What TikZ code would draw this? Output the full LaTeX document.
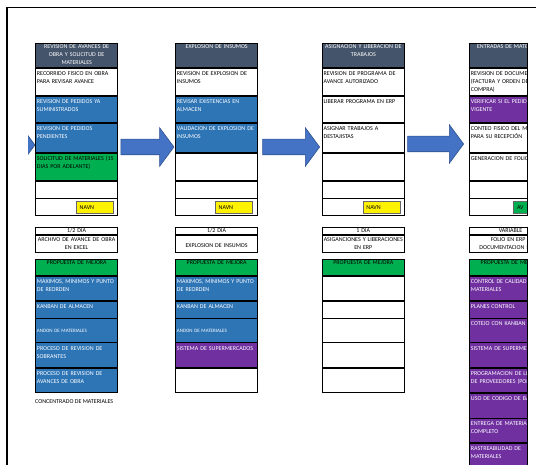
\documentclass[tikz,border=0pt]{standalone}
\usepackage{fontspec}
\setmainfont{Carlito}
\usetikzlibrary{positioning,shapes.arrows}

\definecolor{hdrslate}{HTML}{44546A}
\definecolor{cellblue}{HTML}{2E75B6}
\definecolor{cellgreen}{HTML}{00B050}
\definecolor{cellpurple}{HTML}{7030A0}
\definecolor{arrowblue}{HTML}{4472C4}
\definecolor{arrowedge}{HTML}{2F528F}

\begin{document}
\begin{tikzpicture}[x=1pt, y=-1pt,
  font=\fontsize{6}{8}\selectfont,
  hdr/.style={draw, line width=0.8pt, fill=hdrslate, text=white, anchor=north west, align=center, text width=79.6pt, inner xsep=1.2pt, inner ysep=1pt, text height=4.3pt, text depth=#1pt-6.3pt},
  row/.style={draw, line width=0.8pt, fill=white, anchor=north, align=left, text width=79.6pt, inner xsep=1.2pt, inner ysep=1.5pt, text height=5.7pt, text depth=#1pt-8.7pt},
  info/.style={draw, line width=0.6pt, align=center, text width=79.6pt, inner xsep=1.2pt, inner ysep=0pt, minimum height=#1},
  blu/.style={fill=cellblue, text=white},
  pur/.style={fill=cellpurple, text=white},
  grn/.style={fill=cellgreen, text=black},
  small/.style={font=\fontsize{5}{6}\selectfont, text height=11.8pt, text depth=8.5pt},
  tag/.style={draw=black!60, line width=0.4pt, fill=yellow, anchor=north west, text width=30pt, align=left, inner xsep=3.5pt, inner ysep=0pt, minimum height=11.3pt},
  bigarr/.style={single arrow, draw=arrowedge, fill=arrowblue, line width=0.6pt, inner sep=0pt, text height=15pt, text depth=0pt, minimum width=38pt, single arrow head extend=11.5pt, single arrow tip angle=107, single arrow head indent=0pt, anchor=tip}]
\useasboundingbox (0,0) rectangle (536,465);
% ---- sheet frame
\draw[line width=1.4pt] (6.8,465) -- (6.8,7.3) -- (536,7.3);
% ---- column 1: avances de obra
\node[hdr=24.3] (c1h) at (35.3,42.7) {REVISION DE AVANCES DE\\OBRA Y SOLICITUD DE\\MATERIALES};
\node[row=27, below=0pt of c1h] (c1r1) {RECORRIDO FISICO EN OBRA\\PARA REVISAR AVANCE};
\node[row=26.3, blu, below=0pt of c1r1] (c1r2) {REVISION DE PEDIDOS YA\\SUMINISTRADOS};
\node[row=29.2, blu, below=0pt of c1r2] (c1r3) {REVISION DE PEDIDOS\\PENDIENTES};
\node[row=27.8, grn, below=0pt of c1r3] (c1r4) {SOLICITUD DE MATERIALES (15\\DIAS POR ADELANTE)};
\node[row=16.4, below=0pt of c1r4] (c1r5) {};
\node[row=16.3, below=0pt of c1r5] (c1r6) {};
\node[tag] (c1tag) at ([xshift=40.7pt, yshift=-3pt]c1r6.north west) {NAVN};
\node[info=7.3pt, anchor=north west] (c1i1) at (35.3,226.7) {1/2 DIA};
\node[info=17.7pt, below=0pt of c1i1] (c1i2) {ARCHIVO DE AVANCE DE OBRA\\EN EXCEL};
\node[hdr=15.7, grn] (c1ph) at (35.3,259.3) {PROPUESTA DE MEJORA};
\node[row=24.3, blu, below=0pt of c1ph] (c1p1) {MAXIMOS, MINIMOS Y PUNTO\\DE REORDEN};
\node[row=16.7, blu, below=0pt of c1p1] (c1p2) {KANBAN DE ALMACEN};
\node[row=23.3, blu, small, below=0pt of c1p2] (c1p3) {ANDON DE MATERIALES};
\node[row=24.7, blu, below=0pt of c1p3] (c1p4) {PROCESO DE REVISION DE\\SOBRANTES};
\node[row=24.3, blu, below=0pt of c1p4] (c1p5) {PROCESO DE REVISION DE\\AVANCES DE OBRA};
\node[anchor=west, inner sep=0pt] (conc) at (35,401.5) {CONCENTRADO DE MATERIALES};
% ---- column 2: explosion de insumos
\node[hdr=24.3] (c2h) at (175.3,42.7) {EXPLOSION DE INSUMOS};
\node[row=27, below=0pt of c2h] (c2r1) {REVISION DE EXPLOSION DE\\INSUMOS};
\node[row=26.3, blu, below=0pt of c2r1] (c2r2) {REVISAR EXISTENCIAS EN\\ALMACEN};
\node[row=29.2, blu, below=0pt of c2r2] (c2r3) {VALIDACION DE EXPLOSION DE\\INSUMOS};
\node[row=27.8, below=0pt of c2r3] (c2r4) {};
\node[row=16.4, below=0pt of c2r4] (c2r5) {};
\node[row=16.3, below=0pt of c2r5] (c2r6) {};
\node[tag] (c2tag) at ([xshift=39.7pt, yshift=-3pt]c2r6.north west) {NAVN};
\node[info=7.3pt, anchor=north west] (c2i1) at (175.3,226.7) {1/2 DIA};
\node[info=17.7pt, text height=8pt, below=0pt of c2i1] (c2i2) {EXPLOSION DE INSUMOS};
\node[hdr=15.7, grn] (c2ph) at (175.3,259.3) {PROPUESTA DE MEJORA};
\node[row=24.3, blu, below=0pt of c2ph] (c2p1) {MAXIMOS, MINIMOS Y PUNTO\\DE REORDEN};
\node[row=16.7, blu, below=0pt of c2p1] (c2p2) {KANBAN DE ALMACEN};
\node[row=23.3, blu, small, below=0pt of c2p2] (c2p3) {ANDON DE MATERIALES};
\node[row=24.7, pur, below=0pt of c2p3] (c2p4) {SISTEMA DE SUPERMERCADOS};
\node[row=24.3, below=0pt of c2p4] (c2p5) {};
% ---- column 3: asignacion de trabajos
\node[hdr=24.3] (c3h) at (322,42.7) {ASIGNACION Y LIBERACION DE\\TRABAJOS};
\node[row=27, below=0pt of c3h] (c3r1) {REVISION DE PROGRAMA DE\\AVANCE AUTORIZADO};
\node[row=26.3, below=0pt of c3r1] (c3r2) {LIBERAR PROGRAMA EN ERP};
\node[row=29.2, below=0pt of c3r2] (c3r3) {ASIGNAR TRABAJOS A\\DESTAJISTAS};
\node[row=27.8, below=0pt of c3r3] (c3r4) {};
\node[row=16.4, below=0pt of c3r4] (c3r5) {};
\node[row=16.3, below=0pt of c3r5] (c3r6) {};
\node[tag] (c3tag) at ([xshift=40.7pt, yshift=-3pt]c3r6.north west) {NAVN};
\node[info=7.3pt, anchor=north west] (c3i1) at (322,226.7) {1 DIA};
\node[info=17.7pt, below=0pt of c3i1] (c3i2) {ASIGANCIONES Y LIBERACIONES\\EN ERP};
\node[hdr=15.7, grn] (c3ph) at (322,259.3) {PROPUESTA DE MEJORA};
\node[row=24.3, below=0pt of c3ph] (c3p1) {};
\node[row=16.7, below=0pt of c3p1] (c3p2) {};
\node[row=23.3, below=0pt of c3p2] (c3p3) {};
\node[row=24.7, below=0pt of c3p3] (c3p4) {};
\node[row=24.3, below=0pt of c3p4] (c3p5) {};
% ---- column 4: entradas de materiales (cut by the sheet edge)
\begin{scope}
\clip (0,0) rectangle (527.5,465);
\node[hdr=24.3] (c4h) at (469.3,42.7) {ENTRADAS DE MATERIALES};
\node[row=27, below=0pt of c4h] (c4r1) {REVISION DE DOCUMENTOS\\(FACTURA Y ORDEN DE\\COMPRA)};
\node[row=26.3, pur, below=0pt of c4r1] (c4r2) {VERIFICAR SI EL PEDIDO\\VIGENTE};
\node[row=29.2, below=0pt of c4r2] (c4r3) {CONTEO FISICO DEL MATERIAL\\PARA SU RECEPCIÓN};
\node[row=27.8, below=0pt of c4r3] (c4r4) {GENERACION DE FOLIO};
\node[row=16.4, below=0pt of c4r4] (c4r5) {};
\node[row=16.3, below=0pt of c4r5] (c4r6) {};
\node[tag, fill=cellgreen] (c4tag) at ([xshift=44pt, yshift=-3pt]c4r6.north west) {AV};
\node[info=7.3pt, anchor=north west] (c4i1) at (469.3,226.7) {VARIABLE};
\node[info=17.7pt, below=0pt of c4i1] (c4i2) {FOLIO EN ERP Y\\DOCUMENTACION FISICA};
\node[hdr=15.7, grn] (c4ph) at (469.3,259.3) {PROPUESTA DE MEJORA};
\node[row=24.3, pur, below=0pt of c4ph] (c4p1) {CONTROL DE CALIDAD\\MATERIALES};
\node[row=16.7, pur, below=0pt of c4p1] (c4p2) {PLANES CONTROL};
\node[row=23.3, pur, below=0pt of c4p2] (c4p3) {COTEJO CON KANBAN};
\node[row=24.7, pur, below=0pt of c4p3] (c4p4) {SISTEMA DE SUPERMERCADOS};
\node[row=24.3, pur, below=0pt of c4p4] (c4p5) {PROGRAMACION DE LLEGADAS\\DE PROVEEDORES (POR};
\node[row=24.4, pur, below=0pt of c4p5] (c4p6) {USO DE CODIGO DE BARRAS};
\node[row=24, pur, below=0pt of c4p6] (c4p7) {ENTREGA DE MATERIAL\\COMPLETO};
\node[row=25, pur, below=0pt of c4p7] (c4p8) {RASTREABILIDAD DE\\MATERIALES};
\end{scope}
\coordinate (cut) at (527.5,0);
\draw[line width=0.8pt] (cut |- c4h.north) -- (cut |- c4r6.south);
\draw[line width=0.6pt] (cut |- c4i1.north) -- (cut |- c4i2.south);
\draw[line width=0.8pt] (cut |- c4ph.north) -- (cut |- c4p8.south);
% ---- block arrows between the stages
\begin{scope}
\clip (28,0) rectangle (536,465);
\node[bigarr, minimum height=53pt] (a1) at (35.3,145) {};
\end{scope}
\node[bigarr, minimum height=53pt] (a2) at (174.3,147) {};
\node[bigarr, minimum height=57pt] (a3) at (320,147) {};
\node[bigarr, minimum height=56pt] (a4) at (464,144) {};
\end{tikzpicture}
\end{document}
